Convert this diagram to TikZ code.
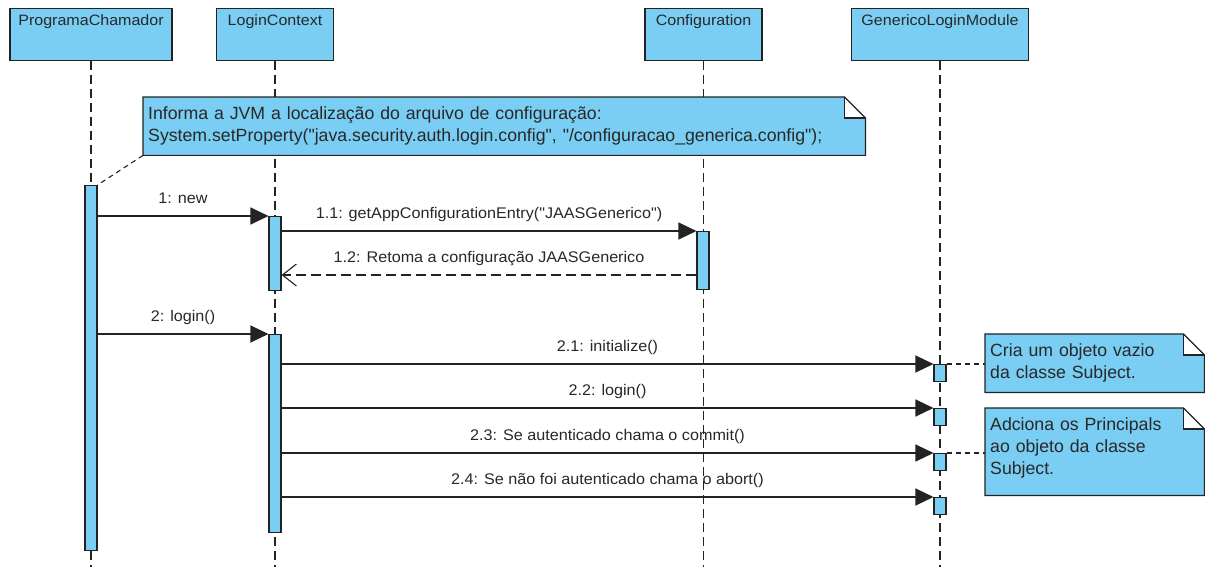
\documentclass[tikz,border=0pt]{standalone}
\usepackage{fontspec}
\setmainfont{Liberation Sans}[Ligatures=TeXOff]
\newfontfamily\headfont{Liberation Sans}[FakeStretch=1.07, Ligatures=TeXOff]
\newfontfamily\msgfont{Liberation Sans}[FakeStretch=1.05, Ligatures=TeXOff]
\usetikzlibrary{arrows.meta}
\definecolor{umlfill}{RGB}{122,206,244}
\definecolor{umlline}{RGB}{35,35,35}
\definecolor{umltext}{RGB}{40,40,40}

\tikzset{
  participant/.style={draw=umlline, fill=umlfill, line width=1.2pt, anchor=north,
    minimum height=52pt, inner xsep=0pt, inner ysep=0pt,
    text height=17pt, text depth=35pt, text=umltext,
    font=\headfont\fontsize{15}{18}\selectfont},
  lifeline/.style={draw=umlline, line width=1.1pt, dash pattern=on 9pt off 5pt},
  activation/.style={draw=umlline, fill=umlfill, line width=1.1pt, anchor=north,
    minimum width=12pt, inner sep=0pt},
  msg/.style={draw=umlline, line width=1.2pt, -{Triangle[length=18pt,width=17pt]}},
  reply/.style={draw=umlline, line width=1.1pt, dash pattern=on 10pt off 5pt,
    -{Straight Barb[length=14pt,width=22pt,line width=1.1pt]}},
  msglabel/.style={anchor=base, yshift=12.5pt, text=umltext, inner sep=0pt,
    font=\msgfont\fontsize{15.4}{18}\selectfont},
  notebox/.style={fill=umlfill, anchor=north west, inner xsep=5pt, inner ysep=4pt,
    align=left, text=umltext, font=\fontsize{17.7}{22}\selectfont},
  noteline/.style={draw=umlline, line width=1.2pt},
  notelink/.style={draw=umlline, line width=1.1pt, dash pattern=on 5pt off 4pt},
}

% draws the outline and the folded corner of a note node
\newcommand{\notefold}[1]{%
  \fill[white] ([xshift=-21pt]#1.north east) rectangle ([yshift=-21pt]#1.north east);
  \draw[noteline] (#1.south west) -- (#1.north west) -- ([xshift=-21pt]#1.north east)
    -- ([yshift=-21pt]#1.north east) -- (#1.south east) -- cycle;
  \draw[noteline] ([xshift=-21pt]#1.north east) -- ([xshift=-21pt,yshift=-21pt]#1.north east)
    -- ([yshift=-21pt]#1.north east);
}

\begin{document}
\begin{tikzpicture}[x=1pt,y=-1pt]
\useasboundingbox[fill=white] (0,0) rectangle (1205,567);

% participants
\node[participant, minimum width=162pt] (pc) at (91,8) {ProgramaChamador};
\node[participant, minimum width=117pt] (lc) at (275,8) {LoginContext};
\node[participant, minimum width=117pt] (cf) at (703.5,8) {Configuration};
\node[participant, minimum width=177pt] (gm) at (940,8) {GenericoLoginModule};

% lifelines
\coordinate (bottom) at (0,567);
\foreach \p in {pc,lc,cf,gm}
  \draw[lifeline] (\p.south) -- (\p.south |- bottom);

% note on the configuration file
\node[notebox, text width=712pt, minimum height=58pt] (n1) at (143,97)
  {Informa a JVM a localização do arquivo de configuração:\\
   System.setProperty("java.security.auth.login.config", "/configuracao\_generica.config");};
\notefold{n1}

% activation bars
\node[activation, minimum height=365pt] (pcA) at (91,185) {};
\node[activation, minimum height=74pt] (lc1) at (275,216) {};
\node[activation, minimum height=58pt] (cf1) at (703,231) {};
\node[activation, minimum height=198pt] (lc2) at (275,334) {};
\node[activation, minimum height=17pt] (g1) at (940,364) {};
\node[activation, minimum height=17pt] (g2) at (940,408) {};
\node[activation, minimum height=17pt] (g3) at (940,453) {};
\node[activation, minimum height=17pt] (g4) at (940,497) {};

\draw[notelink] (n1.south west) -- (pcA.north east);

% messages
\coordinate (r12) at (0,275);
\draw[msg] (pcA.east |- lc1.north) -- node[msglabel] {1: new} (lc1.north west);
\draw[msg] (lc1.east |- cf1.north) -- node[msglabel] {1.1: getAppConfigurationEntry("JAASGenerico")} (cf1.north west);
\draw[reply] (cf1.west |- r12) -- node[msglabel] {1.2: Retoma a configuração JAASGenerico} (lc1.east |- r12);
\draw[msg] (pcA.east |- lc2.north) -- node[msglabel] {2: login()} (lc2.north west);
\draw[msg] (lc2.east |- g1.north) -- node[msglabel] {2.1: initialize()} (g1.north west);
\draw[msg] (lc2.east |- g2.north) -- node[msglabel] {2.2: login()} (g2.north west);
\draw[msg] (lc2.east |- g3.north) -- node[msglabel] {2.3: Se autenticado chama o commit()} (g3.north west);
\draw[msg] (lc2.east |- g4.north) -- node[msglabel] {2.4: Se não foi autenticado chama o abort()} (g4.north west);

% notes on the login module
\node[notebox, text width=209pt, minimum height=58pt] (n2) at (985,334)
  {Cria um objeto vazio\\da classe Subject.};
\notefold{n2}
\node[notebox, text width=209pt, minimum height=87pt] (n3) at (985,408)
  {Adciona os Principals\\ao objeto da classe\\Subject.\rule[-12pt]{0pt}{12pt}};
\notefold{n3}

\draw[notelink] (g1.north east) -- (n2.west |- g1.north);
\draw[notelink] (g3.north east) -- (n3.west |- g3.north);
\end{tikzpicture}
\end{document}
